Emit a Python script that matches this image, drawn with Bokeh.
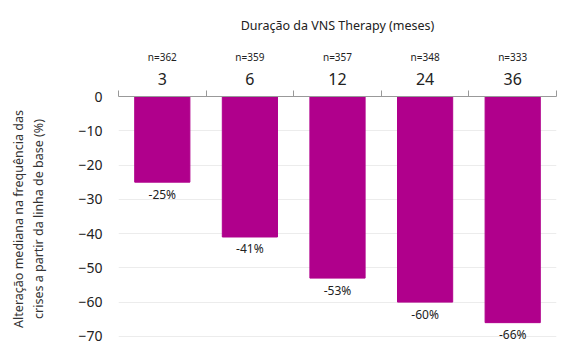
from bokeh.plotting import figure
from bokeh.models import Range1d, FixedTicker, LinearAxis, ColumnDataSource
from bokeh.core.properties import value
from bokeh.embed import file_html
from bokeh.resources import INLINE

months = ["3", "6", "12", "24", "36"]
n_patients = ["n=362", "n=359", "n=357", "n=348", "n=333"]
change = [-25, -41, -53, -60, -66]
change_labels = ["-25%", "-41%", "-53%", "-60%", "-66%"]
y_ticks = [0, -10, -20, -30, -40, -50, -60, -70]

FONT = "Noto Sans"
BAR = "#b0008c"

xs = [i + 0.5 for i in range(len(months))]
src = ColumnDataSource(dict(x=xs, y=change, lab=change_labels))

p = figure(width=560, height=346, output_backend="svg", toolbar_location=None,
           x_range=Range1d(0, len(months)), y_range=Range1d(-71.5, 0),
           x_axis_location=None, min_border_right=4, min_border_left=118,
           min_border_bottom=5, min_border_top=96)
p.outline_line_color = None
p.background_fill_color = "white"

p.vbar(x="x", top=0, bottom="y", width=0.63, color=BAR, source=src)
p.text(x="x", y="y", text="lab", source=src, text_font=value(FONT),
       text_font_size="12px", text_align="center", text_baseline="middle",
       y_offset=12, text_color="#222222")

# y axis
yax = p.yaxis[0]
yax.ticker = FixedTicker(ticks=y_ticks)
yax.axis_line_color = None
yax.major_tick_line_color = None
yax.minor_tick_line_color = None
yax.major_label_text_font = FONT
yax.major_label_text_font_size = "14px"
yax.major_label_text_color = "#222222"
yax.major_label_standoff = 10
yax.axis_label = "Alteração mediana na frequência das\ncrises a partir da linha de base (%)"
yax.axis_label_text_font = FONT
yax.axis_label_text_font_size = "12.5px"
yax.axis_label_text_font_style = "normal"
yax.axis_label_text_color = "#333333"
yax.axis_label_standoff = 28

p.xgrid.visible = False
p.ygrid.ticker = FixedTicker(ticks=y_ticks[1:])
p.ygrid.grid_line_color = "#ececec"

# category axis above
cat_ax = LinearAxis(ticker=FixedTicker(ticks=xs, minor_ticks=list(range(len(months) + 1))))
cat_ax.major_label_overrides = {x: m for x, m in zip(xs, months)}
cat_ax.axis_line_color = "#999999"
cat_ax.major_tick_line_color = None
cat_ax.minor_tick_line_color = "#999999"
cat_ax.minor_tick_out = 6
cat_ax.minor_tick_in = 0
cat_ax.major_label_text_font = FONT
cat_ax.major_label_text_font_size = "16px"
cat_ax.major_label_text_color = "#222222"
cat_ax.major_label_standoff = 6
p.add_layout(cat_ax, "above")

n_ax = LinearAxis(ticker=FixedTicker(ticks=xs))
n_ax.major_label_overrides = {x: n for x, n in zip(xs, n_patients)}
n_ax.axis_line_color = None
n_ax.major_tick_line_color = None
n_ax.minor_tick_line_color = None
n_ax.major_label_text_font = FONT
n_ax.major_label_text_font_size = "10px"
n_ax.major_label_text_color = "#222222"
n_ax.major_label_standoff = 0
p.add_layout(n_ax, "above")

p.title.text = "Duração da VNS Therapy (meses)"
p.title.align = "center"
p.title.text_font = FONT
p.title.text_font_size = "12.5px"
p.title.text_font_style = "normal"
p.title.text_color = "#222222"
p.title.standoff = 25

open("out.html", "w").write(file_html(p, INLINE))
